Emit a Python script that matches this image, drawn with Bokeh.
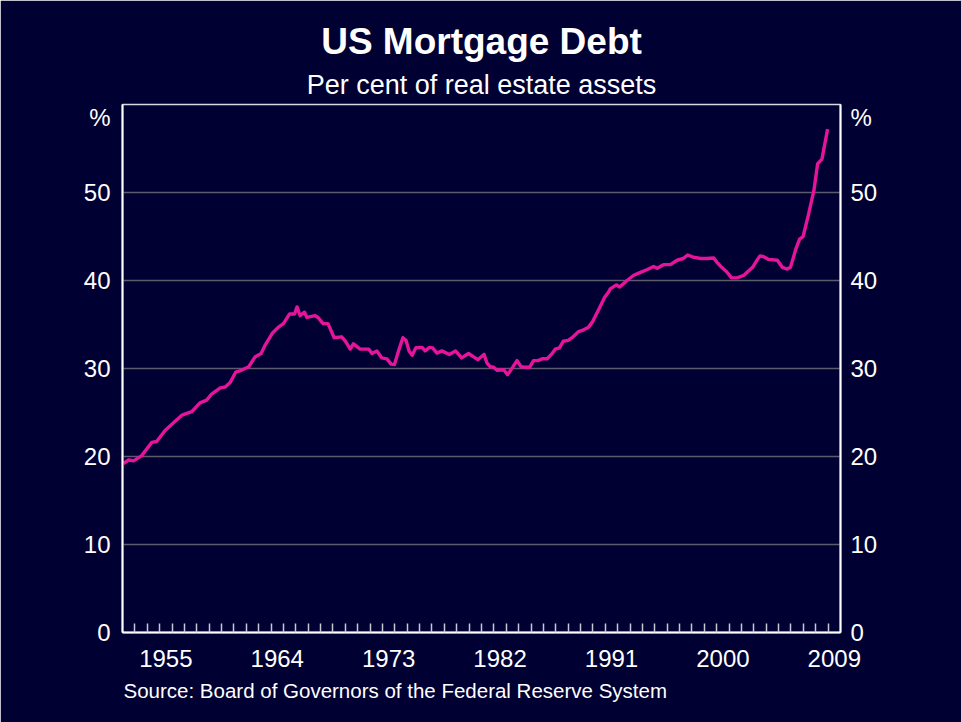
from bokeh.plotting import figure
from bokeh.models import Range1d, FixedTicker, LinearAxis, Title
from bokeh.embed import file_html
from bokeh.resources import INLINE

# ---- data ----
years = [1952.07, 1952.5, 1952.9, 1953.55, 1954.36, 1954.76, 1955.44, 1956.1, 1956.8, 1957.6,
         1958.26, 1958.8, 1959.2, 1959.9, 1960.3, 1960.7, 1961.15, 1961.6, 1962.2, 1962.7,
         1963.2, 1963.5, 1964.1, 1964.6, 1965.0, 1965.5, 1965.9, 1966.1, 1966.35, 1966.7,
         1966.9, 1967.56, 1967.8, 1968.2, 1968.6, 1969.1, 1969.7, 1970.0, 1970.4, 1970.65,
         1971.2, 1971.6, 1971.9, 1972.15, 1972.55, 1972.95, 1973.36, 1973.7, 1973.97, 1974.3,
         1974.65, 1974.9, 1975.15, 1975.4, 1975.7, 1976.2, 1976.45, 1976.8, 1977.05, 1977.4,
         1977.8, 1978.4, 1978.9, 1979.4, 1979.95, 1980.7, 1981.2, 1981.45, 1981.7, 1981.98,
         1982.25, 1982.8, 1983.1, 1983.5, 1983.87, 1984.2, 1984.5, 1984.9, 1985.2, 1985.55,
         1985.9, 1986.3, 1986.7, 1986.96, 1987.3, 1987.6, 1988.0, 1988.4, 1988.85, 1989.25,
         1989.65, 1989.97, 1990.5, 1990.95, 1991.27, 1991.4, 1991.9, 1992.16, 1992.76, 1993.3,
         1993.8, 1994.4, 1994.9, 1995.2, 1995.7, 1996.26, 1996.8, 1997.3, 1997.66, 1998.1,
         1998.7, 1999.2, 1999.76, 2000.0, 2000.4, 2000.8, 2001.2, 2001.65, 2002.2, 2002.9,
         2003.3, 2003.5, 2003.8, 2004.2, 2004.9, 2005.3, 2005.7, 2005.96, 2006.4, 2006.7,
         2006.98, 2007.4, 2007.85, 2008.15, 2008.5, 2008.96]
debt_pct = [19.2, 19.6, 19.5, 20.1, 21.6, 21.7, 22.95, 23.8, 24.7, 25.1,
            26.1, 26.4, 27.1, 27.8, 27.9, 28.4, 29.6, 29.8, 30.2, 31.3,
            31.7, 32.6, 34.0, 34.7, 35.1, 36.2, 36.2, 37.0, 36.0, 36.4,
            35.8, 36.0, 35.8, 35.1, 35.1, 33.5, 33.6, 33.1, 32.2, 32.8,
            32.2, 32.2, 32.2, 31.7, 32.0, 31.2, 31.1, 30.5, 30.45, 32.0,
            33.5, 33.2, 32.0, 31.5, 32.35, 32.4, 32.0, 32.4, 32.35, 31.75,
            32.0, 31.6, 32.0, 31.2, 31.7, 31.0, 31.6, 30.6, 30.2, 30.15,
            29.8, 29.85, 29.3, 30.1, 30.9, 30.2, 30.15, 30.15, 30.9, 30.9,
            31.1, 31.1, 31.7, 32.2, 32.35, 33.1, 33.2, 33.6, 34.2, 34.4,
            34.7, 35.3, 36.8, 38.1, 38.7, 39.05, 39.5, 39.25, 40.0, 40.6,
            40.9, 41.25, 41.6, 41.4, 41.8, 41.8, 42.3, 42.5, 42.9, 42.65,
            42.5, 42.5, 42.55, 42.1, 41.5, 41.0, 40.3, 40.3, 40.6, 41.5,
            42.4, 42.8, 42.7, 42.4, 42.3, 41.5, 41.3, 41.5, 43.6, 44.7,
            45.0, 47.4, 50.2, 53.25, 53.8, 57.2]

label_years = [1955, 1964, 1973, 1982, 1991, 2000, 2009]
y_ticks = [0, 10, 20, 30, 40, 50]

title = "US Mortgage Debt"
subtitle = "Per cent of real estate assets"
source = "Source: Board of Governors of the Federal Reserve System"

# ---- styling ----
BG = "#000033"
LINE = "#E6149A"
FONT = "Liberation Sans"
X0, X1 = 1952, 2010
Y0, Y1 = 0, 60

p = figure(width=961, height=722, x_range=Range1d(X0, X1), y_range=Range1d(Y0, Y1),
           output_backend="svg", toolbar_location=None,
           background_fill_color=BG, border_fill_color=BG,
           min_border_left=122, min_border_right=121, min_border_top=104, min_border_bottom=90,
           outline_line_color="#d8d8e0", outline_line_width=1.5)

p.line(years, debt_pct, line_color=LINE, line_width=3.4, line_join="round")

# titles: main title outermost, subtitle next to the frame
p.title.text = title
p.title.align = "center"
p.title.text_color = "white"
p.title.text_font = FONT
p.title.text_font_size = "37px"
p.title.text_font_style = "bold"
p.title.standoff = 2
p.add_layout(Title(text=subtitle, align="center", text_color="white", text_font=FONT,
                   text_font_size="27px", text_font_style="normal", standoff=10), "above")
p.add_layout(Title(text=source, align="left", offset=1, text_color="white", text_font=FONT,
                   text_font_size="20.5px", text_font_style="normal", standoff=14), "below")

# x axis
xa = p.xaxis[0]
label_pos = [y + 0.5 for y in label_years]
xa.ticker = FixedTicker(ticks=label_pos, minor_ticks=list(range(X0 + 1, X1)))
xa.major_label_overrides = {pos: str(y) for pos, y in zip(label_pos, label_years)}
xa.major_tick_line_color = None
xa.major_tick_in = 0
xa.major_tick_out = 0
xa.minor_tick_in = 9
xa.minor_tick_out = 0
xa.minor_tick_line_color = "#c8c8d4"
xa.minor_tick_line_width = 1.5
xa.axis_line_color = "white"
xa.axis_line_width = 2
xa.major_label_text_color = "white"
xa.major_label_text_font = FONT
xa.major_label_text_font_size = "24px"
xa.major_label_standoff = 17

p.xgrid.visible = False
p.ygrid.ticker = FixedTicker(ticks=[t for t in y_ticks if t > 0])
p.ygrid.grid_line_color = "#5c5c6c"
p.ygrid.grid_line_width = 1.5

# y axes (left + right)
ra = LinearAxis()
p.add_layout(ra, "right")
pct_pos = 58.5
for ax, standoff in ((p.yaxis[0], 12), (ra, 10)):
    ax.ticker = FixedTicker(ticks=y_ticks + [pct_pos], minor_ticks=[])
    ax.major_label_overrides = {pct_pos: "%"}
    ax.major_tick_line_color = None
    ax.major_tick_in = 0
    ax.major_tick_out = 0
    ax.minor_tick_line_color = None
    ax.axis_line_color = "white"
    ax.axis_line_width = 2
    ax.major_label_text_color = "white"
    ax.major_label_text_font = FONT
    ax.major_label_text_font_size = "24px"
    ax.major_label_standoff = standoff

open("out.html", "w").write(file_html(p, INLINE))
